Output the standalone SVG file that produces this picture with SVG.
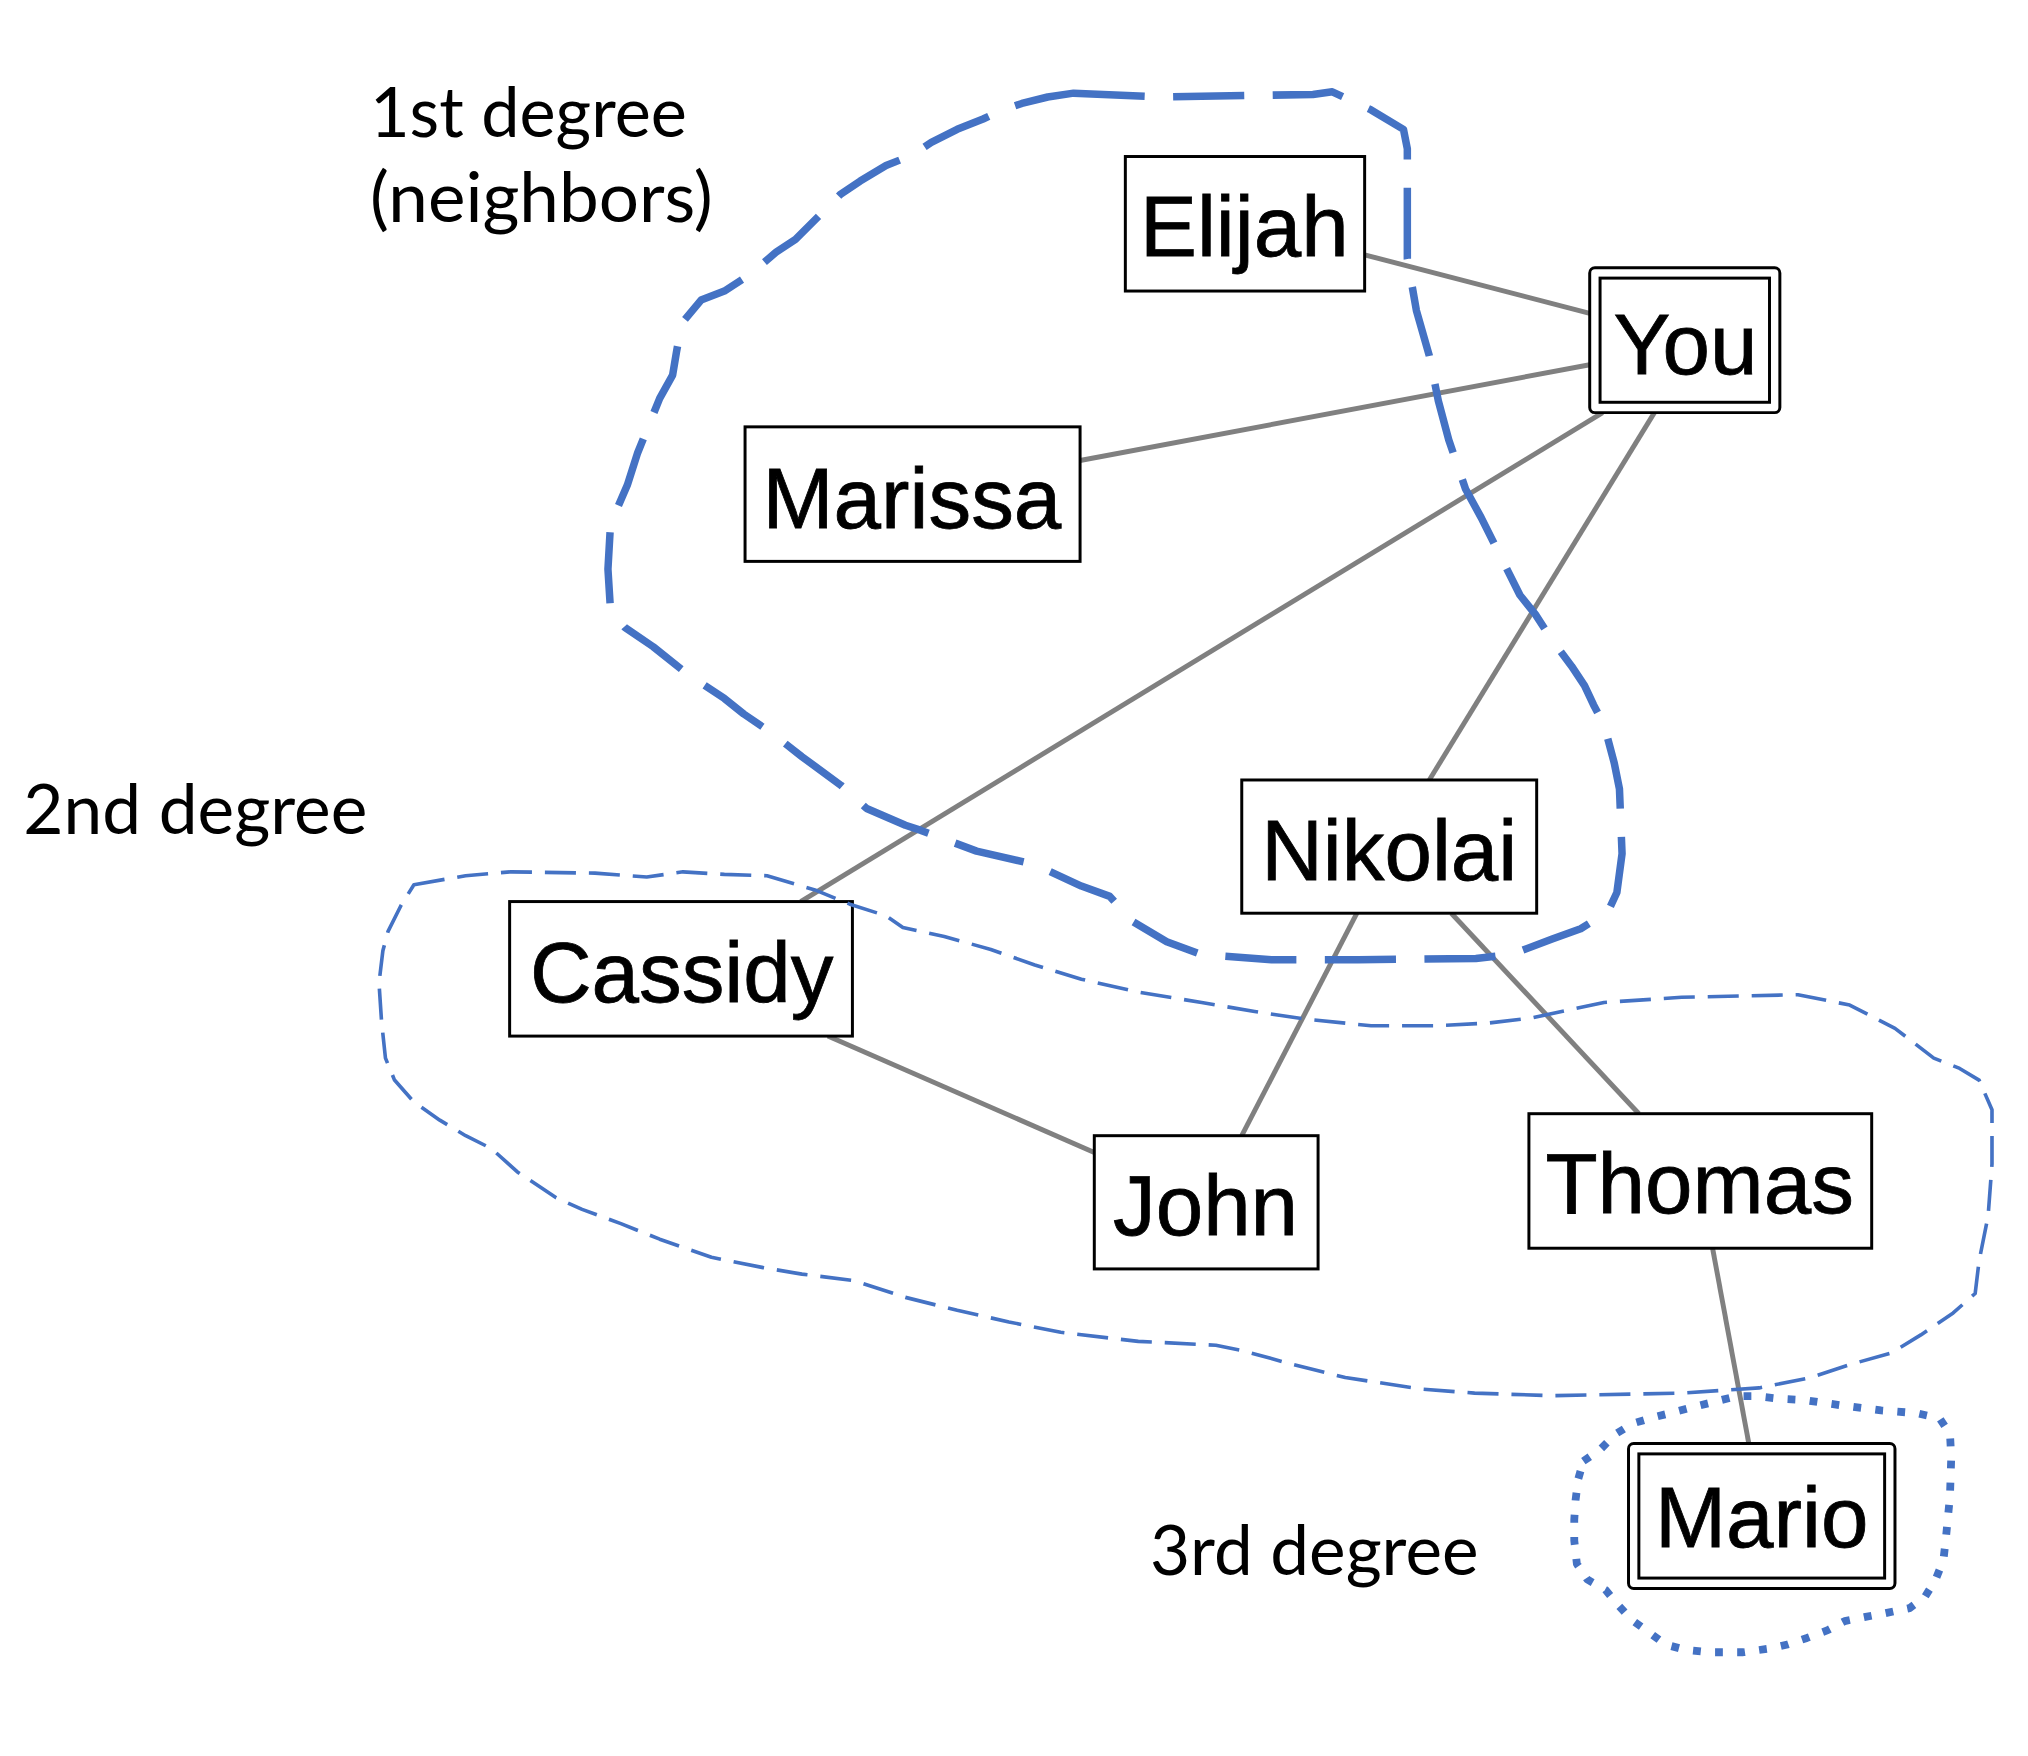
<svg xmlns="http://www.w3.org/2000/svg" width="2028" height="1756" viewBox="0 0 2028 1756">
<style>
.box{fill:#fff;stroke:#000;stroke-width:2.3}
.nt{font-family:"Liberation Sans",Arial,sans-serif;font-size:66px;fill:#000;stroke:#000;stroke-width:0.6;text-anchor:middle}
.lbl{font-family:Lato,"Open Sans",sans-serif;font-size:54px;fill:#000}
.edge{stroke:#808080;stroke-width:3.8;fill:none}
.c1{fill:none;stroke:#4472C4;stroke-width:5.8;stroke-dasharray:55 22;stroke-linejoin:round}
.c2{fill:none;stroke:#4472C4;stroke-width:2.8;stroke-dasharray:24 10;stroke-linejoin:round}
.c3{fill:none;stroke:#4472C4;stroke-width:6;stroke-dasharray:6 11;stroke-linejoin:round}
</style>
<rect width="2028" height="1756" fill="#fff"/>
<g transform="scale(1.2935)">
<g id="connectors">
<line class="edge" x1="1055" y1="197" x2="1232" y2="243"/>
<line class="edge" x1="835" y1="356" x2="1229" y2="282"/>
<line class="edge" x1="619" y1="697" x2="1239" y2="319"/>
<line class="edge" x1="1105" y1="603" x2="1279" y2="319"/>
<line class="edge" x1="1049" y1="706" x2="960" y2="878"/>
<line class="edge" x1="1122" y1="706" x2="1267" y2="861"/>
<line class="edge" x1="640" y1="801" x2="846" y2="891"/>
<line class="edge" x1="1324" y1="965" x2="1352" y2="1116"/>
</g>
<g id="node-elijah"><rect class="box" x="870" y="121" width="185" height="104"/><text class="nt" x="962" y="198">Elijah</text></g>
<g id="node-you"><rect class="box" x="1229" y="207" width="147" height="112" rx="4"/><rect class="box" x="1237" y="215" width="131" height="96"/><text class="nt" x="1303" y="289">You</text></g>
<g id="node-marissa"><rect class="box" x="576" y="330" width="259" height="104"/><text class="nt" x="705" y="408">Marissa</text></g>
<g id="node-nikolai"><rect class="box" x="960" y="603" width="228" height="103"/><text class="nt" x="1074" y="680">Nikolai</text></g>
<g id="node-cassidy"><rect class="box" x="394" y="697" width="265" height="104"/><text class="nt" x="527" y="775">Cassidy</text></g>
<g id="node-john"><rect class="box" x="846" y="878" width="173" height="103"/><text class="nt" x="932" y="955">John</text></g>
<g id="node-thomas"><rect class="box" x="1182" y="861" width="265" height="104"/><text class="nt" x="1314" y="938">Thomas</text></g>
<g id="node-mario"><rect class="box" x="1259" y="1116" width="206" height="112" rx="4"/><rect class="box" x="1267" y="1124" width="190" height="96"/><text class="nt" x="1362" y="1196">Mario</text></g>
<g id="regions">
<path class="c1" d="M830,72 L900,75 L1015,73 L1030,71 L1060,85 L1085,100 L1088,115 L1088,200 L1095,240 L1105,275 L1112,310 L1120,340 L1133,378 L1145,400 L1160,430 L1175,460 L1187,475 L1200,495 L1215,515 L1225,530 L1232,545 L1240,560 L1248,590 L1252,610 L1254,660 L1250,690 L1243,705 L1222,718 L1200,726 L1168,738 L1141,741 L1050,742 L983,742 L929,738 L902,728 L875,712 L858,693 L836,685 L799,668 L755,658 L712,642 L700,638 L670,625 L650,607 L620,585 L597,567 L575,552 L560,540 L530,520 L505,500 L483,485 L472,472 L470,440 L472,405 L485,375 L493,350 L510,308 L520,290 L523,272 L527,250 L542,232 L560,225 L580,212 L600,195 L615,185 L635,165 L650,150 L665,140 L685,128 L705,120 L720,110 L740,100 L760,92 L775,85 L790,80 L810,75 Z"/>
<path class="c2" d="M320,684 L360,677 L395,674 L460,675 L500,678 L528,674 L560,676 L593,677 L630,688 L657,699 L685,708 L698,717 L730,724 L766,734 L800,746 L836,757 L880,767 L929,775 L970,782 L1010,788 L1060,793 L1110,793 L1150,791 L1184,787 L1240,775 L1300,771 L1390,769 L1430,777 L1465,795 L1495,818 L1515,826 L1530,835 L1540,858 L1540,900 L1537,940 L1530,975 L1527,1000 L1510,1015 L1485,1032 L1462,1046 L1430,1055 L1400,1065 L1360,1073 L1300,1077 L1200,1079 L1140,1077 L1100,1074 L1040,1065 L1000,1055 L960,1044 L940,1040 L880,1037 L820,1030 L780,1022 L740,1013 L700,1003 L660,990 L620,985 L590,980 L550,972 L510,958 L480,946 L450,935 L430,926 L400,906 L380,888 L360,878 L340,866 L320,852 L305,835 L298,818 L295,790 L293,760 L296,735 L300,720 L310,700 Z"/>
<path class="c3" transform="scale(1.005)" d="M1218,1124 L1231,1115 L1243,1103 L1256,1095 L1273,1090 L1289,1086 L1304,1082 L1320,1078 L1336,1074 L1351,1074 L1369,1076 L1388,1077 L1416,1081 L1447,1085 L1474,1087 L1492,1091 L1500,1103 L1501,1121 L1500,1151 L1497,1182 L1495,1200 L1489,1215 L1481,1228 L1469,1237 L1450,1241 L1434,1244 L1419,1247 L1406,1254 L1390,1260 L1375,1265 L1362,1268 L1341,1271 L1315,1271 L1296,1269 L1281,1265 L1269,1256 L1255,1246 L1245,1235 L1235,1223 L1221,1215 L1213,1203 L1211,1185 L1211,1169 L1212,1154 L1214,1138 Z"/>
</g>
<g id="labels">
<text class="lbl" x="286" y="106" textLength="245" lengthAdjust="spacingAndGlyphs">1st degree</text>
<text class="lbl" x="286" y="172" textLength="265" lengthAdjust="spacingAndGlyphs">(neighbors)</text>
<text class="lbl" x="18" y="645" textLength="266" lengthAdjust="spacingAndGlyphs">2nd degree</text>
<text class="lbl" x="889" y="1218" textLength="254" lengthAdjust="spacingAndGlyphs">3rd degree</text>
</g>
</g>
</svg>
